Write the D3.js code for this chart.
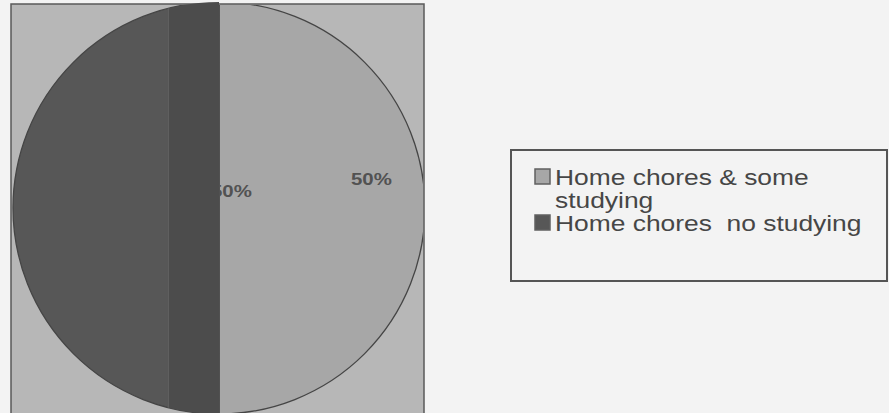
<!DOCTYPE html>
<html><head><meta charset="utf-8">
<script src="https://cdn.jsdelivr.net/npm/d3@7"></script>
<style>
html,body{margin:0;padding:0;background:#f3f3f3;}
svg{display:block;}
text{font-family:"Liberation Sans",Arial,sans-serif;white-space:pre;}
</style></head>
<body>
<svg id="c" width="889" height="413"></svg>
<script>
const categories = ["Home chores & some studying", "Home chores  no studying"];
const values = [50, 50];
const legendLines = [["Home chores & some", "studying"], ["Home chores  no studying"]];
const colors = ["#a7a7a7", "#575757"];

const svg = d3.select("#c");
const W = 889, H = 413;

// plot area box
const box = {x: 11, y: 4, w: 413, h: 412};
svg.append("rect").attr("x", box.x).attr("y", box.y).attr("width", box.w).attr("height", box.h)
  .attr("fill", "#b7b7b7").attr("stroke", "#5a5a5a").attr("stroke-width", 1.5);

const cx = 219, cy = 208, r = 206;
const total = d3.sum(values);
const pie = d3.pie().sort(null).value(d => d).startAngle(0).endAngle(2 * Math.PI);
const arcs = pie(values);
const arc = d3.arc().innerRadius(0).outerRadius(r);

const defs = svg.append("defs");
defs.append("clipPath").attr("id", "boxclip")
  .append("rect").attr("x", box.x + 1).attr("y", box.y + 1).attr("width", box.w - 2).attr("height", box.h);

const gp = svg.append("g").attr("clip-path", "url(#boxclip)")
  .append("g").attr("transform", `translate(${cx},${cy})`);

gp.selectAll("path.slice").data(arcs).enter().append("path")
  .attr("class", "slice")
  .attr("d", arc)
  .attr("fill", (d, i) => colors[i])
  .attr("stroke", "#454545").attr("stroke-width", 1.3);

// darker shading band inside the dark slice (near the split)
defs.append("clipPath").attr("id", "darkclip")
  .append("path").attr("d", arc(arcs[1])).attr("transform", `translate(${cx},${cy})`);
const band = svg.append("g").attr("clip-path", "url(#darkclip)");
band.append("rect").attr("x", cx - r * 0.25).attr("y", cy - r).attr("width", r * 0.25).attr("height", 2 * r)
  .attr("fill", "#4c4c4c");
band.append("rect").attr("x", cx - r * 0.25).attr("y", cy - r).attr("width", 1.5).attr("height", 2 * r)
  .attr("fill", "#5f5f5f");

// labels (only visible on the light side of the split)
defs.append("clipPath").attr("id", "rightclip")
  .append("rect").attr("x", cx + 1).attr("y", 0).attr("width", W).attr("height", H);
const fmt = d => Math.round(d / total * 100) + "%";
const labelPos = [[cx + r * 0.74, cy - 23], [cx + r * 0.06, cy - 11]];
const lbl = svg.append("g").attr("clip-path", "url(#rightclip)");
lbl.selectAll("text").data(arcs).enter().append("text")
  .attr("transform", (d, i) => `translate(${labelPos[i][0]},${labelPos[i][1]}) scale(1.2,1)`)
  .attr("text-anchor", "middle")
  .attr("font-size", 17).attr("font-weight", "bold").attr("fill", "#525252")
  .text(d => fmt(d.value));

// legend
const lg = {x: 511, y: 150, w: 376, h: 131};
svg.append("rect").attr("x", lg.x).attr("y", lg.y).attr("width", lg.w).attr("height", lg.h)
  .attr("fill", "none").attr("stroke", "#555").attr("stroke-width", 2);
let line = 0;
const lineH = 23, firstBase = 185;
categories.forEach((c, i) => {
  const base = firstBase + line * lineH;
  svg.append("rect").attr("x", 535).attr("y", base - 16).attr("width", 15).attr("height", 15)
    .attr("fill", colors[i]).attr("stroke", "#606060").attr("stroke-width", 1.5);
  legendLines[i].forEach((t, k) => {
    svg.append("text")
      .attr("transform", `translate(555,${base + k * lineH}) scale(1.2,1)`)
      .attr("xml:space", "preserve")
      .attr("font-size", 22).attr("fill", "#464646").text(t);
  });
  line += legendLines[i].length;
});
</script>
</body></html>
